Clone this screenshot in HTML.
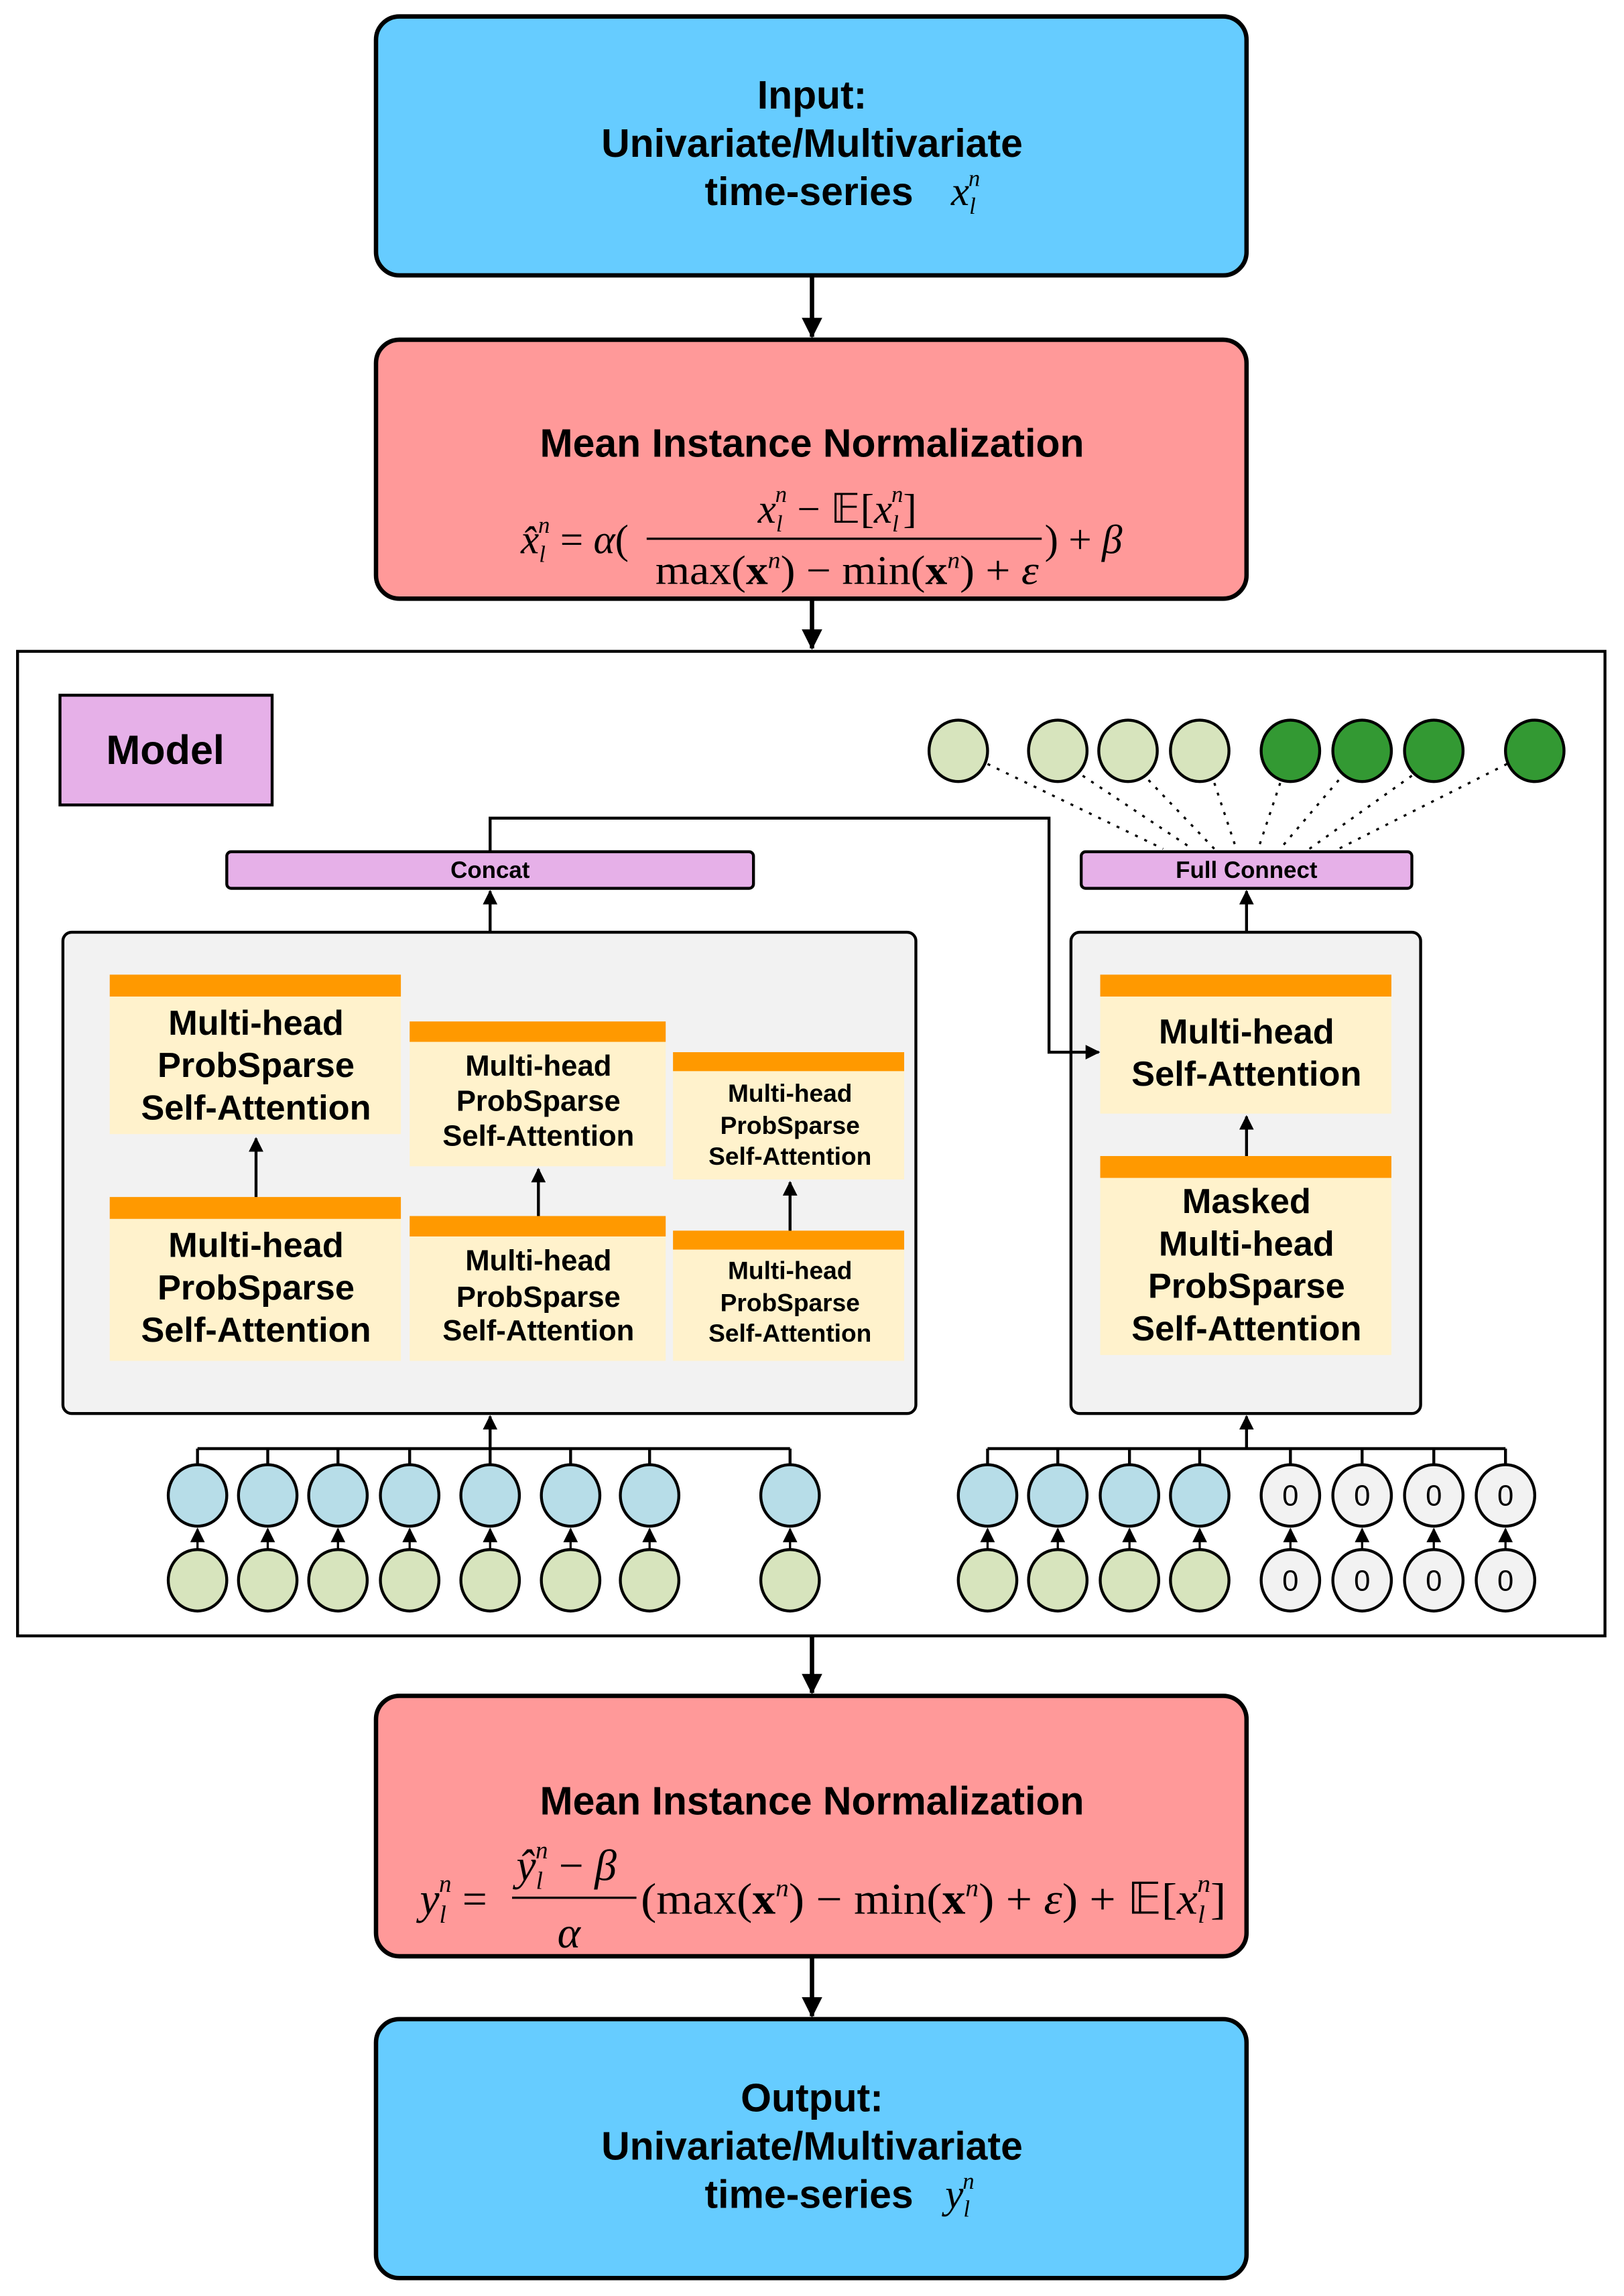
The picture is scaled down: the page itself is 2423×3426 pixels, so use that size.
<!DOCTYPE html>
<html><head><meta charset="utf-8"><style>html,body{margin:0;padding:0;background:#fff}svg{display:block}</style></head><body>
<svg width="2423" height="3426" viewBox="0 0 1110 1569" xmlns="http://www.w3.org/2000/svg">
<defs>
<marker id="ah" markerWidth="10" markerHeight="10" refX="9" refY="5" orient="auto" markerUnits="userSpaceOnUse"><path d="M0,0 L10,5 L0,10 Z" fill="#000"/></marker>
<marker id="ahb" markerWidth="14" markerHeight="14" refX="13" refY="7" orient="auto" markerUnits="userSpaceOnUse"><path d="M0,0 L14,7 L0,14 Z" fill="#000"/></marker>
</defs>
<g font-family="Liberation Sans, DejaVu Sans, sans-serif" font-weight="bold" text-anchor="middle">
<!-- Input -->
<rect x="257" y="11" width="595" height="177" rx="16" fill="#66CCFF" stroke="#000" stroke-width="3"/>
<text x="555" y="74" font-size="27">Input:</text>
<text x="555" y="107" font-size="27">Univariate/Multivariate</text>
<text x="553" y="140" font-size="27">time-series</text>
<text x="660" y="140" font-size="28" font-family="Liberation Serif, serif" font-style="italic" font-weight="normal">x<tspan font-size="16" dy="6">l</tspan><tspan font-size="16" dx="-5" dy="-19">n</tspan></text>
<line x1="555" y1="188" x2="555" y2="230" stroke="#000" stroke-width="3" marker-end="url(#ahb)"/>
<!-- MIN1 -->
<rect x="257" y="232" width="595" height="177" rx="16" fill="#FF9999" stroke="#000" stroke-width="3"/>
<text x="555" y="312" font-size="27">Mean Instance Normalization</text>
<g font-family="Liberation Serif, serif" font-weight="normal" font-size="28" text-anchor="start">
<text x="356" y="378"><tspan font-style="italic">x̂</tspan><tspan font-size="16" font-style="italic" dy="6">l</tspan><tspan font-size="16" font-style="italic" dx="-5" dy="-20">n</tspan><tspan dy="14"> = </tspan><tspan font-style="italic">α</tspan>(</text>
<text x="518" y="357"><tspan font-style="italic">x</tspan><tspan font-size="16" font-style="italic" dy="6">l</tspan><tspan font-size="16" font-style="italic" dx="-5" dy="-20">n</tspan><tspan dy="14"> − 𝔼[</tspan><tspan font-style="italic">x</tspan><tspan font-size="16" font-style="italic" dy="6">l</tspan><tspan font-size="16" font-style="italic" dx="-5" dy="-20">n</tspan><tspan dy="14">]</tspan></text>
<line x1="442" y1="368" x2="712" y2="368" stroke="#000" stroke-width="1.5"/>
<text x="448" y="399" textLength="262" lengthAdjust="spacingAndGlyphs">max(<tspan font-weight="bold">x</tspan><tspan font-size="16" font-style="italic" dy="-11">n</tspan><tspan dy="11">) − min(</tspan><tspan font-weight="bold">x</tspan><tspan font-size="16" font-style="italic" dy="-11">n</tspan><tspan dy="11">) + </tspan><tspan font-style="italic">ε</tspan></text>
<text x="714" y="378">) + <tspan font-style="italic">β</tspan></text>
</g>
<line x1="555" y1="409" x2="555" y2="443" stroke="#000" stroke-width="3" marker-end="url(#ahb)"/>
<!-- Model frame -->
<rect x="12" y="445" width="1085" height="673" fill="#fff" stroke="#000" stroke-width="2"/>
<rect x="41" y="475" width="145" height="75" fill="#E6B0E8" stroke="#000" stroke-width="2"/>
<text x="113" y="522" font-size="28">Model</text>
<!-- Concat / FC -->
<rect x="155" y="582" width="360" height="25" rx="3" fill="#E6B0E8" stroke="#000" stroke-width="2"/>
<text x="335" y="600" font-size="16">Concat</text>
<rect x="739" y="582" width="226" height="25" rx="3" fill="#E6B0E8" stroke="#000" stroke-width="2"/>
<text x="852" y="600" font-size="16">Full Connect</text>
<!-- gray boxes -->
<rect x="43" y="637" width="583" height="329" rx="6" fill="#F2F2F2" stroke="#000" stroke-width="2"/>
<rect x="732" y="637" width="239" height="329" rx="6" fill="#F2F2F2" stroke="#000" stroke-width="2"/>
<line x1="335" y1="637" x2="335" y2="609" stroke="#000" stroke-width="2" marker-end="url(#ah)"/>
<line x1="852" y1="637" x2="852" y2="609" stroke="#000" stroke-width="2" marker-end="url(#ah)"/>
<polyline points="335,582 335,559 717,559 717,719 751,719" fill="none" stroke="#000" stroke-width="2" marker-end="url(#ah)"/>
<!-- col1 -->
<rect x="75" y="666" width="199" height="15" fill="#FF9900"/><rect x="75" y="681" width="199" height="94" fill="#FFF2CC"/>
<text font-size="24"><tspan x="175" y="707">Multi-head</tspan><tspan x="175" y="736">ProbSparse</tspan><tspan x="175" y="765">Self-Attention</tspan></text>
<rect x="75" y="818" width="199" height="15" fill="#FF9900"/><rect x="75" y="833" width="199" height="97" fill="#FFF2CC"/>
<text font-size="24"><tspan x="175" y="859">Multi-head</tspan><tspan x="175" y="888">ProbSparse</tspan><tspan x="175" y="917">Self-Attention</tspan></text>
<line x1="175" y1="818" x2="175" y2="778" stroke="#000" stroke-width="2" marker-end="url(#ah)"/>
<!-- col2 -->
<rect x="280" y="698" width="175" height="14" fill="#FF9900"/><rect x="280" y="712" width="175" height="85" fill="#FFF2CC"/>
<text font-size="20"><tspan x="368" y="735">Multi-head</tspan><tspan x="368" y="759">ProbSparse</tspan><tspan x="368" y="783">Self-Attention</tspan></text>
<rect x="280" y="831" width="175" height="14" fill="#FF9900"/><rect x="280" y="845" width="175" height="85" fill="#FFF2CC"/>
<text font-size="20"><tspan x="368" y="868">Multi-head</tspan><tspan x="368" y="893">ProbSparse</tspan><tspan x="368" y="916">Self-Attention</tspan></text>
<line x1="368" y1="831" x2="368" y2="799" stroke="#000" stroke-width="2" marker-end="url(#ah)"/>
<!-- col3 -->
<rect x="460" y="719" width="158" height="13" fill="#FF9900"/><rect x="460" y="732" width="158" height="74" fill="#FFF2CC"/>
<text font-size="17"><tspan x="540" y="753">Multi-head</tspan><tspan x="540" y="775">ProbSparse</tspan><tspan x="540" y="796">Self-Attention</tspan></text>
<rect x="460" y="841" width="158" height="13" fill="#FF9900"/><rect x="460" y="854" width="158" height="76" fill="#FFF2CC"/>
<text font-size="17"><tspan x="540" y="874">Multi-head</tspan><tspan x="540" y="896">ProbSparse</tspan><tspan x="540" y="917">Self-Attention</tspan></text>
<line x1="540" y1="841" x2="540" y2="808" stroke="#000" stroke-width="2" marker-end="url(#ah)"/>
<!-- right -->
<rect x="752" y="666" width="199" height="15" fill="#FF9900"/><rect x="752" y="681" width="199" height="80" fill="#FFF2CC"/>
<text font-size="24"><tspan x="852" y="713">Multi-head</tspan><tspan x="852" y="742">Self-Attention</tspan></text>
<rect x="752" y="790" width="199" height="15" fill="#FF9900"/><rect x="752" y="805" width="199" height="121" fill="#FFF2CC"/>
<text font-size="24"><tspan x="852" y="829">Masked</tspan><tspan x="852" y="858">Multi-head</tspan><tspan x="852" y="887">ProbSparse</tspan><tspan x="852" y="916">Self-Attention</tspan></text>
<line x1="852" y1="790" x2="852" y2="763" stroke="#000" stroke-width="2" marker-end="url(#ah)"/>
<!-- dotted lines -->
<g stroke="#000" stroke-width="1.5" stroke-dasharray="2,5">
<line x1="675" y1="522" x2="795" y2="580"/><line x1="740" y1="530" x2="815" y2="580"/><line x1="785" y1="533" x2="830" y2="580"/><line x1="830" y1="535" x2="845" y2="580"/>
<line x1="875" y1="535" x2="860" y2="580"/><line x1="915" y1="533" x2="875" y2="580"/><line x1="965" y1="530" x2="895" y2="580"/><line x1="1030" y1="522" x2="915" y2="580"/>
</g>
<g stroke="#000" stroke-width="2">
<ellipse cx="655" cy="513" rx="20" ry="21" fill="#D7E4BD"/><ellipse cx="723" cy="513" rx="20" ry="21" fill="#D7E4BD"/><ellipse cx="771" cy="513" rx="20" ry="21" fill="#D7E4BD"/><ellipse cx="820" cy="513" rx="20" ry="21" fill="#D7E4BD"/>
<ellipse cx="882" cy="513" rx="20" ry="21" fill="#339933"/><ellipse cx="931" cy="513" rx="20" ry="21" fill="#339933"/><ellipse cx="980" cy="513" rx="20" ry="21" fill="#339933"/><ellipse cx="1049" cy="513" rx="20" ry="21" fill="#339933"/>
</g>
<!-- bottom buses -->
<g stroke="#000" stroke-width="2" fill="none">
<line x1="135" y1="990" x2="540" y2="990"/>
<line x1="135" y1="990" x2="135" y2="1001"/><line x1="183" y1="990" x2="183" y2="1001"/><line x1="231" y1="990" x2="231" y2="1001"/><line x1="280" y1="990" x2="280" y2="1001"/><line x1="335" y1="990" x2="335" y2="1001"/><line x1="390" y1="990" x2="390" y2="1001"/><line x1="444" y1="990" x2="444" y2="1001"/><line x1="540" y1="990" x2="540" y2="1001"/>
<line x1="675" y1="990" x2="1029" y2="990"/>
<line x1="675" y1="990" x2="675" y2="1001"/><line x1="723" y1="990" x2="723" y2="1001"/><line x1="772" y1="990" x2="772" y2="1001"/><line x1="820" y1="990" x2="820" y2="1001"/><line x1="882" y1="990" x2="882" y2="1001"/><line x1="931" y1="990" x2="931" y2="1001"/><line x1="980" y1="990" x2="980" y2="1001"/><line x1="1029" y1="990" x2="1029" y2="1001"/>
</g>
<line x1="335" y1="990" x2="335" y2="968" stroke="#000" stroke-width="2" marker-end="url(#ah)"/>
<line x1="852" y1="990" x2="852" y2="968" stroke="#000" stroke-width="2" marker-end="url(#ah)"/>
<g stroke="#000" stroke-width="2">
<g fill="#B7DDE8">
<ellipse cx="135" cy="1022" rx="20" ry="21"/><ellipse cx="183" cy="1022" rx="20" ry="21"/><ellipse cx="231" cy="1022" rx="20" ry="21"/><ellipse cx="280" cy="1022" rx="20" ry="21"/><ellipse cx="335" cy="1022" rx="20" ry="21"/><ellipse cx="390" cy="1022" rx="20" ry="21"/><ellipse cx="444" cy="1022" rx="20" ry="21"/><ellipse cx="540" cy="1022" rx="20" ry="21"/>
<ellipse cx="675" cy="1022" rx="20" ry="21"/><ellipse cx="723" cy="1022" rx="20" ry="21"/><ellipse cx="772" cy="1022" rx="20" ry="21"/><ellipse cx="820" cy="1022" rx="20" ry="21"/>
</g>
<g fill="#D7E4BD">
<ellipse cx="135" cy="1080" rx="20" ry="21"/><ellipse cx="183" cy="1080" rx="20" ry="21"/><ellipse cx="231" cy="1080" rx="20" ry="21"/><ellipse cx="280" cy="1080" rx="20" ry="21"/><ellipse cx="335" cy="1080" rx="20" ry="21"/><ellipse cx="390" cy="1080" rx="20" ry="21"/><ellipse cx="444" cy="1080" rx="20" ry="21"/><ellipse cx="540" cy="1080" rx="20" ry="21"/>
<ellipse cx="675" cy="1080" rx="20" ry="21"/><ellipse cx="723" cy="1080" rx="20" ry="21"/><ellipse cx="772" cy="1080" rx="20" ry="21"/><ellipse cx="820" cy="1080" rx="20" ry="21"/>
</g>
<g fill="#F2F2F2">
<ellipse cx="882" cy="1022" rx="20" ry="21"/><ellipse cx="931" cy="1022" rx="20" ry="21"/><ellipse cx="980" cy="1022" rx="20" ry="21"/><ellipse cx="1029" cy="1022" rx="20" ry="21"/>
<ellipse cx="882" cy="1080" rx="20" ry="21"/><ellipse cx="931" cy="1080" rx="20" ry="21"/><ellipse cx="980" cy="1080" rx="20" ry="21"/><ellipse cx="1029" cy="1080" rx="20" ry="21"/>
</g>
</g>
<g font-size="20" font-weight="normal">
<text x="882" y="1029">0</text><text x="931" y="1029">0</text><text x="980" y="1029">0</text><text x="1029" y="1029">0</text>
<text x="882" y="1087">0</text><text x="931" y="1087">0</text><text x="980" y="1087">0</text><text x="1029" y="1087">0</text>
</g>
<g stroke="#000" stroke-width="1.5">
<line x1="135" y1="1059" x2="135" y2="1045" marker-end="url(#ah)"/><line x1="183" y1="1059" x2="183" y2="1045" marker-end="url(#ah)"/><line x1="231" y1="1059" x2="231" y2="1045" marker-end="url(#ah)"/><line x1="280" y1="1059" x2="280" y2="1045" marker-end="url(#ah)"/><line x1="335" y1="1059" x2="335" y2="1045" marker-end="url(#ah)"/><line x1="390" y1="1059" x2="390" y2="1045" marker-end="url(#ah)"/><line x1="444" y1="1059" x2="444" y2="1045" marker-end="url(#ah)"/><line x1="540" y1="1059" x2="540" y2="1045" marker-end="url(#ah)"/>
<line x1="675" y1="1059" x2="675" y2="1045" marker-end="url(#ah)"/><line x1="723" y1="1059" x2="723" y2="1045" marker-end="url(#ah)"/><line x1="772" y1="1059" x2="772" y2="1045" marker-end="url(#ah)"/><line x1="820" y1="1059" x2="820" y2="1045" marker-end="url(#ah)"/>
<line x1="882" y1="1059" x2="882" y2="1045" marker-end="url(#ah)"/><line x1="931" y1="1059" x2="931" y2="1045" marker-end="url(#ah)"/><line x1="980" y1="1059" x2="980" y2="1045" marker-end="url(#ah)"/><line x1="1029" y1="1059" x2="1029" y2="1045" marker-end="url(#ah)"/>
</g>
<line x1="555" y1="1118" x2="555" y2="1157" stroke="#000" stroke-width="3" marker-end="url(#ahb)"/>
<!-- MIN2 -->
<rect x="257" y="1159" width="595" height="178" rx="16" fill="#FF9999" stroke="#000" stroke-width="3"/>
<text x="555" y="1240" font-size="27">Mean Instance Normalization</text>
<g font-family="Liberation Serif, serif" font-weight="normal" font-size="30" text-anchor="start">
<text x="287" y="1308"><tspan font-style="italic">y</tspan><tspan font-size="17" font-style="italic" dy="6">l</tspan><tspan font-size="17" font-style="italic" dx="-5" dy="-21">n</tspan><tspan dy="15"> =</tspan></text>
<text x="353" y="1285"><tspan font-style="italic">ŷ</tspan><tspan font-size="17" font-style="italic" dy="6">l</tspan><tspan font-size="17" font-style="italic" dx="-5" dy="-21">n</tspan><tspan dy="15"> − </tspan><tspan font-style="italic">β</tspan></text>
<line x1="350" y1="1297" x2="435" y2="1297" stroke="#000" stroke-width="1.5"/>
<text x="381" y="1331" font-style="italic">α</text>
<text x="438" y="1308" textLength="400" lengthAdjust="spacingAndGlyphs">(max(<tspan font-weight="bold">x</tspan><tspan font-size="17" font-style="italic" dy="-12">n</tspan><tspan dy="12">) − min(</tspan><tspan font-weight="bold">x</tspan><tspan font-size="17" font-style="italic" dy="-12">n</tspan><tspan dy="12">) + </tspan><tspan font-style="italic">ε</tspan>) + 𝔼[<tspan font-style="italic">x</tspan><tspan font-size="17" font-style="italic" dy="6">l</tspan><tspan font-size="17" font-style="italic" dx="-5" dy="-21">n</tspan><tspan dy="15">]</tspan></text>
</g>
<line x1="555" y1="1337" x2="555" y2="1378" stroke="#000" stroke-width="3" marker-end="url(#ahb)"/>
<!-- Output -->
<rect x="257" y="1380" width="595" height="177" rx="16" fill="#66CCFF" stroke="#000" stroke-width="3"/>
<text x="555" y="1443" font-size="27">Output:</text>
<text x="555" y="1476" font-size="27">Univariate/Multivariate</text>
<text x="553" y="1509" font-size="27">time-series</text>
<text x="656" y="1509" font-size="28" font-family="Liberation Serif, serif" font-style="italic" font-weight="normal">y<tspan font-size="16" dy="6">l</tspan><tspan font-size="16" dx="-5" dy="-19">n</tspan></text>
</g>
</svg>
</body></html>
